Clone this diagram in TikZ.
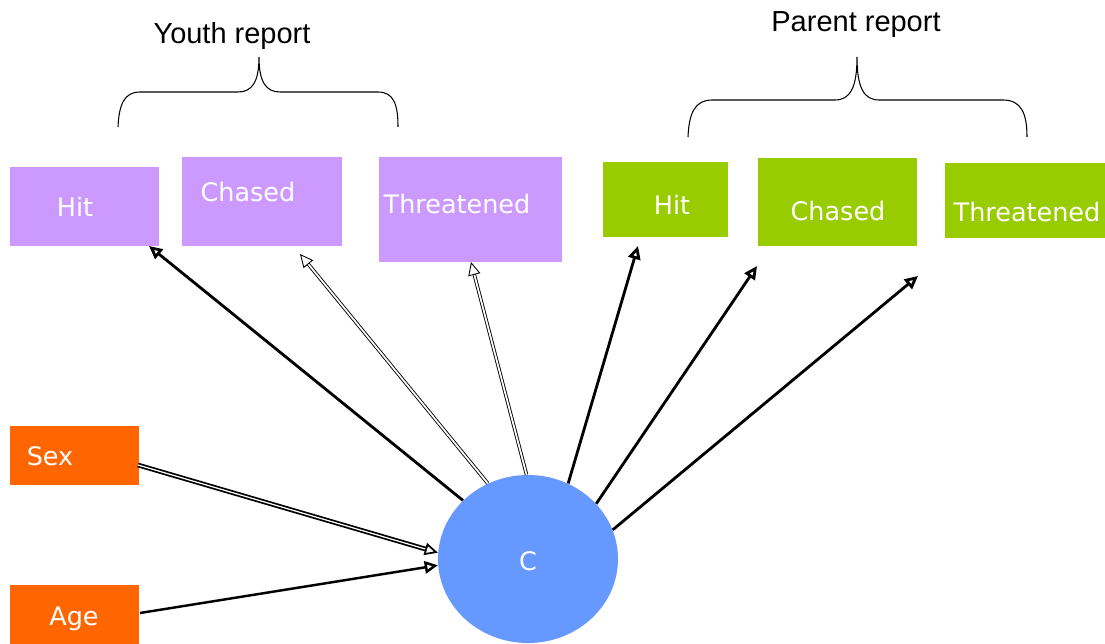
\documentclass[tikz,border=0pt]{standalone}
\usepackage{fontspec}
\setmainfont{Liberation Sans}
\newfontfamily\boxfont{DejaVu Sans}
\usetikzlibrary{arrows.meta,shapes.geometric}
\definecolor{youth}{HTML}{CC99FF}
\definecolor{parent}{HTML}{99CC00}
\definecolor{covar}{HTML}{FF6600}
\definecolor{latent}{HTML}{6699FF}
\tikzset{
  boxbase/.style={draw=none,inner sep=0pt},
  ybox/.style={boxbase,fill=youth},
  pbox/.style={boxbase,fill=parent},
  cbox/.style={boxbase,fill=covar},
  wtxt/.style={text=white,font=\boxfont\fontsize{14.5}{17}\selectfont,inner sep=0pt,text height=1.1ex,text depth=0pt},
  ttl/.style={font=\fontsize{16.5}{19}\selectfont,inner sep=0pt},
  tip/.style={-{Triangle[open,length=7.5pt,width=7pt,fill=white]}},
  thk/.style={tip,line width=1.6pt},
  dbl/.style={tip,line width=0.5pt,double,double distance=1pt},
  brace/.style={line width=0.6pt}
}
\begin{document}
\begin{tikzpicture}[x=0.02cm,y=-0.02cm]
\useasboundingbox (0,0) rectangle (1105,644);
% boxes
\node[ybox,minimum width=2.98cm,minimum height=1.58cm] (yhitb) at (84.5,206.5) {};
\node[ybox,minimum width=3.2cm,minimum height=1.78cm] (ychb) at (262,201.5) {};
\node[ybox,minimum width=3.66cm,minimum height=2.1cm] (ythb) at (470.5,209.5) {};
\node[pbox,minimum width=2.5cm,minimum height=1.5cm] (phitb) at (665.5,199.5) {};
\node[pbox,minimum width=3.18cm,minimum height=1.76cm] (pchb) at (837.5,202) {};
\node[pbox,minimum width=3.2cm,minimum height=1.5cm] (pthb) at (1025,200.5) {};
\node[cbox,minimum width=2.58cm,minimum height=1.18cm] (sexb) at (74.5,455.5) {};
\node[cbox,minimum width=2.58cm,minimum height=1.18cm] (ageb) at (74.5,614.5) {};
\node[ellipse,fill=latent,draw=none,minimum width=3.6cm,minimum height=3.36cm,inner sep=0pt] (C) at (528,559) {};
% texts
\node[wtxt] (yhit) at (75,211) {Hit};
\node[wtxt] (ych) at (248,196) {Chased};
\node[wtxt] (yth) at (457,208) {Threatened};
\node[wtxt] (phit) at (672,209) {Hit};
\node[wtxt] (pch) at (838,215) {Chased};
\node[wtxt] (pth) at (1027,216) {Threatened};
\node[wtxt] (sex) at (50,460) {Sex};
\node[wtxt] (age) at (74,620) {Age};
\node[wtxt] (c) at (528,565) {C};
% titles
\node[ttl] (yt) at (232,36) {Youth report};
\node[ttl] (pt) at (856,25) {Parent report};
% braces
\draw[brace] (118,127) .. controls (119,105) and (124,92) .. (140,92) -- (238,92)
  .. controls (252,92) and (259,82) .. (259,57)
  .. controls (259,82) and (266,92) .. (280,92) -- (378,92)
  .. controls (394,92) and (398,105) .. (398,127);
\draw[brace] (688,137) .. controls (689,113) and (695,100) .. (712,100) -- (835,100)
  .. controls (850,100) and (857,88) .. (857,57)
  .. controls (857,88) and (864,100) .. (879,100) -- (1003,100)
  .. controls (1021,100) and (1027,113) .. (1027,137);
% tip coordinates
\coordinate (t1) at (149,246);
\coordinate (t2) at (300,254);
\coordinate (t3) at (471,262);
\coordinate (t4) at (638,246);
\coordinate (t5) at (757,266);
\coordinate (t6) at (918,276);
\coordinate (s1) at (138,465);
\coordinate (s2) at (140,613);
% connectors
\draw[thk] (C.138) -- (t1);
\draw[dbl] (C.118) -- (t2);
\draw[dbl] (C.91) -- (t3);
\draw[thk] (C.62) -- (t4);
\draw[thk] (C.39) -- (t5);
\draw[thk] (C.19) -- (t6);
\draw[dbl,line width=1pt,double distance=0.7pt] (s1) -- (C.176);
\draw[thk,line width=1.4pt] (s2) -- (C.184);
\end{tikzpicture}
\end{document}
